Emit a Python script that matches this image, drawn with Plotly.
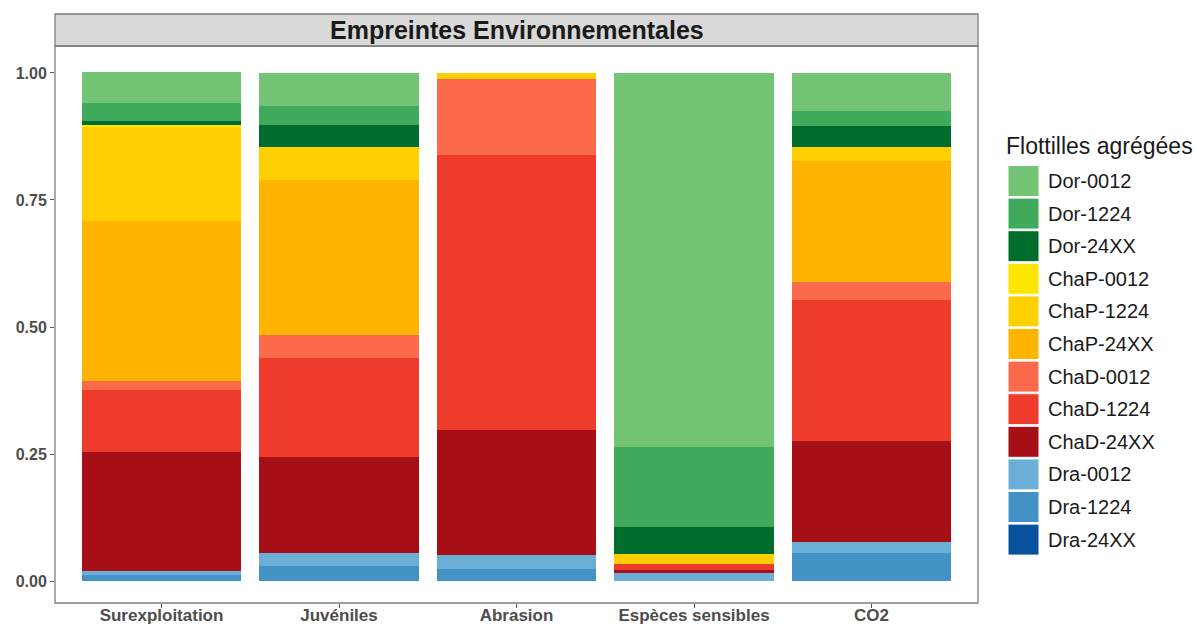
import plotly.graph_objects as go

# indicateurs (axe x)
categories = ["Surexploitation", "Juvéniles", "Abrasion", "Espèces sensibles", "CO2"]

# flottilles, dans l'ordre de la légende (haut -> bas)
fleets = ["Dor-0012", "Dor-1224", "Dor-24XX",
          "ChaP-0012", "ChaP-1224", "ChaP-24XX",
          "ChaD-0012", "ChaD-1224", "ChaD-24XX",
          "Dra-0012", "Dra-1224", "Dra-24XX"]

fleet_colors = ["#74C476", "#41AB5D", "#006D2C",
                "#FFE600", "#FFD000", "#FFB400",
                "#FB6A4A", "#EF3B2C", "#A50F15",
                "#6BAED6", "#4292C6", "#08519C"]

# parts relatives par indicateur
dor_0012 = [0.061, 0.065, 0.000, 0.736, 0.075]
dor_1224 = [0.034, 0.037, 0.000, 0.157, 0.029]
dor_24xx = [0.009, 0.043, 0.000, 0.053, 0.042]
chap_0012 = [0.004, 0.000, 0.000, 0.000, 0.000]
chap_1224 = [0.185, 0.065, 0.012, 0.020, 0.028]
chap_24xx = [0.315, 0.305, 0.000, 0.000, 0.238]
chad_0012 = [0.017, 0.045, 0.150, 0.000, 0.034]
chad_1224 = [0.122, 0.195, 0.540, 0.012, 0.279]
chad_24xx = [0.235, 0.189, 0.247, 0.005, 0.198]
dra_0012 = [0.007, 0.026, 0.028, 0.017, 0.021]
dra_1224 = [0.012, 0.030, 0.023, 0.000, 0.056]
dra_24xx = [0.000, 0.000, 0.000, 0.000, 0.000]

series = [dor_0012, dor_1224, dor_24xx, chap_0012, chap_1224, chap_24xx,
          chad_0012, chad_1224, chad_24xx, dra_0012, dra_1224, dra_24xx]

W, H = 1197, 628
L, R, T, B = 55, 219, 46, 25
pw, ph = W - L - R, H - T - B


def px_x(x):
    return (x - L) / pw


def px_y(y):
    return (H - B - y) / ph


fig = go.Figure()

# ggplot empile le premier niveau en haut -> on ajoute à l'envers
for name, vals, col in reversed(list(zip(fleets, series, fleet_colors))):
    fig.add_trace(go.Bar(
        x=categories, y=vals, name=name,
        marker=dict(color=col, line=dict(width=0)),
        width=0.9, showlegend=False
    ))

shapes = []
annotations = []

# bandeau du titre (facet strip)
shapes.append(dict(type="rect", xref="paper", yref="paper",
                   x0=0, x1=1, y0=1, y1=px_y(14),
                   fillcolor="#D9D9D9", line=dict(color="#7F7F7F", width=1.3)))
annotations.append(dict(text="<b>Empreintes Environnementales</b>", xref="paper", yref="paper",
                        x=0.5, y=(1 + px_y(14)) / 2, showarrow=False,
                        xanchor="center", yanchor="middle",
                        font=dict(size=25, color="#1A1A1A", family="Liberation Sans")))
# bordure du panneau
shapes.append(dict(type="rect", xref="paper", yref="paper", x0=0, x1=1, y0=0, y1=1,
                   line=dict(color="#7F7F7F", width=1.3), fillcolor="rgba(0,0,0,0)"))

# légende manuelle (grandes clés façon ggplot)
annotations.append(dict(text="Flottilles agrégées", xref="paper", yref="paper",
                        x=px_x(1004), y=px_y(146), showarrow=False,
                        xanchor="left", yanchor="middle",
                        font=dict(size=23, color="#1A1A1A", family="Liberation Sans")))
for i, (name, col) in enumerate(zip(fleets, fleet_colors)):
    yc = 181 + 32.6 * i
    shapes.append(dict(type="rect", xref="paper", yref="paper",
                       x0=px_x(1008), x1=px_x(1039),
                       y0=px_y(yc + 15.5), y1=px_y(yc - 15.5),
                       fillcolor=col, line=dict(color="white", width=1)))
    annotations.append(dict(text=name, xref="paper", yref="paper",
                            x=px_x(1046), y=px_y(yc), showarrow=False,
                            xanchor="left", yanchor="middle",
                            font=dict(size=20, color="#1A1A1A", family="Liberation Sans")))

fig.update_layout(
    width=W, height=H,
    margin=dict(l=L, r=R, t=T, b=B),
    barmode="stack", bargap=0.1,
    plot_bgcolor="white", paper_bgcolor="white",
    font=dict(family="Liberation Sans"),
    shapes=shapes, annotations=annotations,
    xaxis=dict(type="category", range=[-0.6, 4.6], showgrid=False, zeroline=False,
               automargin=False,
               ticks="outside", ticklen=4, tickcolor="#555555",
               ticklabelstandoff=-7,
               tickfont=dict(size=17, color="#4D4D4D", family="Liberation Sans"),
               tickprefix="<b>", ticksuffix="</b>"),
    yaxis=dict(range=[-0.043, 1.053], tickvals=[0, 0.25, 0.5, 0.75, 1.0],
               ticktext=["<b>0.00</b>", "<b>0.25</b>", "<b>0.50</b>", "<b>0.75</b>", "<b>1.00</b>"],
               showgrid=False, zeroline=False, automargin=False,
               ticks="outside", ticklen=4, tickcolor="#555555",
               tickfont=dict(size=16, color="#4D4D4D", family="Liberation Sans")),
)

# pas de marge du <body> pour que la figure occupe exactement la fenêtre
fig.write_html("out.html", config={"displayModeBar": False},
               post_script="document.body.style.margin='0';")
